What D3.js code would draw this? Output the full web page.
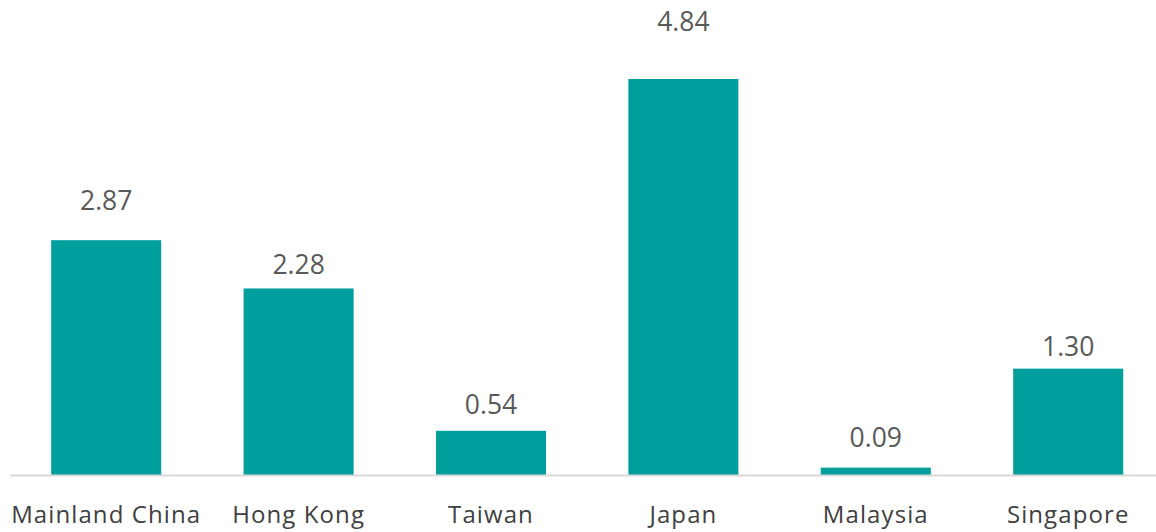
<!DOCTYPE html>
<html>
<head>
<meta charset="utf-8">
<script src="https://cdn.jsdelivr.net/npm/d3@7"></script>
<style>
  html, body { margin: 0; padding: 0; background: #ffffff; }
  svg { display: block; }
</style>
</head>
<body>
<script>
const categories = ["Mainland China", "Hong Kong", "Taiwan", "Japan", "Malaysia", "Singapore"];
const values = [2.87, 2.28, 0.54, 4.84, 0.09, 1.30];
const valueLabels = ["2.87", "2.28", "0.54", "4.84", "0.09", "1.30"];
// distance (px) between each bar top and its data label baseline, as placed in the reference
const labelLift = [30, 14, 17, 48, 21, 13];

const W = 1156, H = 532;
const svg = d3.select("body").append("svg").attr("width", W).attr("height", H);

const x = d3.scaleBand().domain(categories).range([10, 1164.4]).paddingInner(0.428).paddingOuter(0.214);
const y = d3.scaleLinear().domain([0, 4.84]).range([475, 79]);

svg.append("g").selectAll("rect").data(values).join("rect")
  .attr("x", (d, i) => x(categories[i]))
  .attr("y", d => y(d))
  .attr("width", x.bandwidth())
  .attr("height", d => y(0) - y(d))
  .attr("fill", "#009f9d");

const axis = svg.append("g").attr("transform", `translate(0,${y(0) + 0.5})`)
  .call(d3.axisBottom(x).tickSize(0).tickPadding(0));
axis.select(".domain").attr("stroke", "#d9d9d9").attr("stroke-width", 2).attr("d", "M10,0H1156");
axis.selectAll(".tick text")
  .attr("y", 47.5).attr("dy", 0)
  .attr("fill", "#404040")
  .style("font-family", "'Open Sans', sans-serif")
  .style("font-size", "24px")
  .style("letter-spacing", "1.1px");

svg.append("g").selectAll("text").data(values).join("text")
  .attr("x", (d, i) => x(categories[i]) + x.bandwidth() / 2)
  .attr("y", (d, i) => y(d) - labelLift[i])
  .attr("text-anchor", "middle")
  .attr("fill", "#595959")
  .style("font-family", "'Open Sans', sans-serif")
  .style("font-size", "26.5px")
  .text((d, i) => valueLabels[i]);
</script>
</body>
</html>
